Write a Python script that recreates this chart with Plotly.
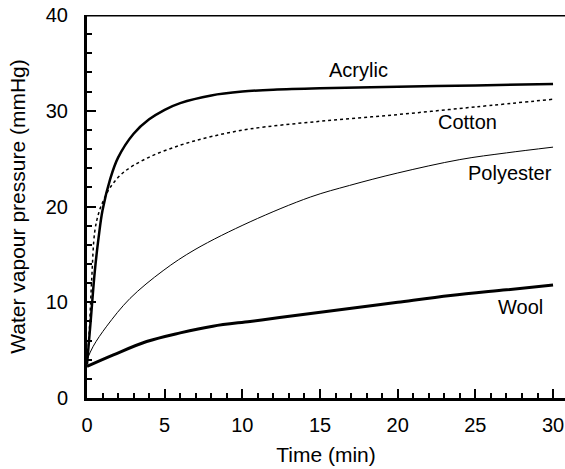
import plotly.graph_objects as go

# Data
acrylic_t = [0, 0.25, 0.5, 0.75, 1.0, 1.5, 2.0, 3.0, 4.0, 5.0, 6.0, 8.0, 10.0, 12.0, 15.0, 20.0, 25.0, 30.0]
acrylic_p = [3.5, 8.3, 13.2, 16.8, 19.6, 22.9, 25.1, 27.6, 29.1, 30.1, 30.8, 31.6, 32.0, 32.2, 32.35, 32.5, 32.65, 32.8]

cotton_t = [0, 0.15, 0.3, 0.5, 0.75, 1.0, 1.5, 2.3, 3.8, 6.0, 8.0, 10.5, 15.0, 20.0, 25.0, 30.0]
cotton_p = [3.5, 7.1, 12.3, 17.4, 19.3, 20.4, 22.0, 23.5, 25.0, 26.4, 27.3, 28.1, 28.9, 29.6, 30.4, 31.2]

polyester_t = [0, 0.4, 1.27, 2.77, 4.9, 6.95, 10.5, 14.4, 16.9, 20.0, 24.0, 27.0, 30.0]
polyester_p = [4.0, 5.4, 7.5, 10.4, 13.3, 15.5, 18.4, 21.0, 22.2, 23.5, 24.9, 25.6, 26.2]

wool_t = [0, 1.7, 3.84, 6.0, 8.1, 10.5, 12.4, 16.9, 20.0, 23.4, 27.0, 30.0]
wool_p = [3.3, 4.5, 5.9, 6.8, 7.5, 8.0, 8.4, 9.35, 10.0, 10.7, 11.3, 11.8]

labels = ["Acrylic", "Cotton", "Polyester", "Wool"]
label_x = [17.45, 24.5, 27.2, 27.9]
label_y = [34.3, 28.8, 23.5, 9.5]

FONT = "Liberation Sans, Arial, Helvetica, sans-serif"

fig = go.Figure()
fig.add_trace(go.Scatter(x=acrylic_t, y=acrylic_p, mode="lines",
                         line=dict(color="black", width=2.5, shape="spline", smoothing=1.0)))
fig.add_trace(go.Scatter(x=cotton_t, y=cotton_p, mode="lines",
                         line=dict(color="black", width=1.5, dash="3px,3px", shape="spline", smoothing=1.0)))
fig.add_trace(go.Scatter(x=polyester_t, y=polyester_p, mode="lines",
                         line=dict(color="black", width=1, shape="spline", smoothing=1.0)))
fig.add_trace(go.Scatter(x=wool_t, y=wool_p, mode="lines",
                         line=dict(color="black", width=3, shape="spline", smoothing=1.0)))

for txt, x, y in zip(labels, label_x, label_y):
    fig.add_annotation(x=x, y=y, text=txt, showarrow=False,
                       font=dict(family=FONT, size=20, color="black"),
                       xanchor="center", yanchor="middle")

# top frame line
fig.add_shape(type="line", xref="paper", yref="y", x0=0, x1=1, y0=40, y1=40,
              line=dict(color="black", width=3))

fig.update_layout(
    width=565, height=469,
    margin=dict(l=87, r=0, t=15, b=71),
    paper_bgcolor="white", plot_bgcolor="white",
    showlegend=False,
    font=dict(family=FONT, size=20, color="black"),
    xaxis=dict(
        range=[0, 30.77], tickvals=[0, 5, 10, 15, 20, 25, 30],
        ticks="inside", ticklen=9, tickwidth=1.5, tickcolor="black",
        showline=True, linecolor="black", linewidth=3,
        showgrid=False, zeroline=False,
        minor=dict(dtick=1, ticks="inside", ticklen=5, tickwidth=1.5, tickcolor="black", showgrid=False),
        ticklabelstandoff=7,
        tickfont=dict(size=20),
        title=dict(text="Time (min)", font=dict(size=21), standoff=13),
    ),
    yaxis=dict(
        range=[0, 40], tickvals=[0, 10, 20, 30, 40],
        ticks="inside", ticklen=9, tickwidth=1.5, tickcolor="black",
        showline=True, linecolor="black", linewidth=3,
        showgrid=False, zeroline=False,
        minor=dict(dtick=2, ticks="inside", ticklen=5, tickwidth=1.5, tickcolor="black", showgrid=False),
        ticklabelstandoff=12,
        tickfont=dict(size=20),
        title=dict(text="Water vapour pressure (mmHg)", font=dict(size=21), standoff=15),
    ),
)

fig.write_html("out.html")
